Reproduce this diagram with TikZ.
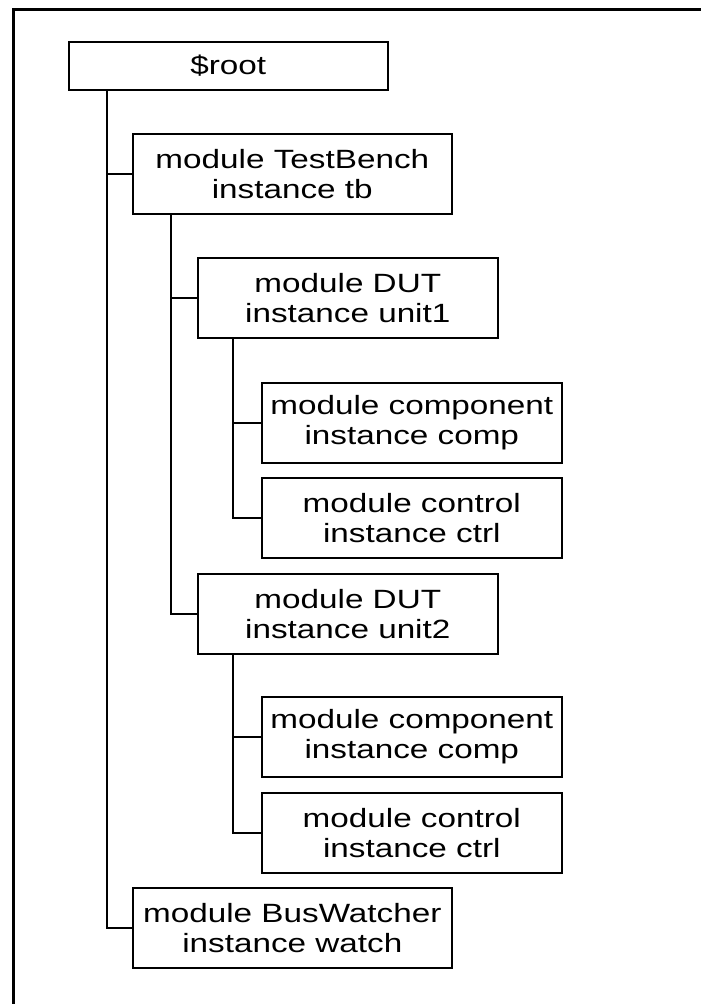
\documentclass[tikz,border=0pt]{standalone}
\usepackage{fontspec}
\setmainfont{Liberation Sans}[FakeStretch=1.26]
\tikzset{
	treenode/.style = {align=center, inner sep=0pt, text centered,
		font=\fontsize{26.4}{29.7}\selectfont},
	inst_n/.style = {treenode, rectangle, draw=black, line width=1.6pt,
		anchor=north west, minimum width=300pt, minimum height=80pt},% instance, boite normale
	inst_w/.style = {inst_n, minimum width=319pt},% instance, boite large
	inst_r/.style = {inst_w, minimum height=48pt},% racine
	lien/.style = {draw=black, line width=1.6pt}% lien parent enfant
}

\begin{document}
\begin{tikzpicture}[x=1pt,y=-1pt]
	\useasboundingbox (0,0) rectangle (701,1004);
	\draw[line width=2.6pt] (13.7,1010) -- (13.7,9.5) -- (710,9.5);

	\node[inst_r] (root) at (68,41) {\$root};
	\node[inst_w] (tb) at (132,133) {module TestBench\\instance tb};
	\node[inst_n] (unit1) at (197,257) {module DUT\\instance unit1};
	\node[inst_n] (comp1) at (261,382) {module component\\instance comp};
	\node[inst_n] (ctrl1) at (261,477) {module control\\instance ctrl};
	\node[inst_n] (unit2) at (197,573) {module DUT\\instance unit2};
	\node[inst_n] (comp2) at (261,696) {module component\\instance comp};
	\node[inst_n] (ctrl2) at (261,792) {module control\\instance ctrl};
	\node[inst_w] (bw) at (132,887) {module BusWatcher\\instance watch};

	\draw[lien] ([xshift=39pt]root.south west) |- (tb.west);
	\draw[lien] ([xshift=39pt]root.south west) |- (bw.west);
	\draw[lien] ([xshift=39pt]tb.south west) |- (unit1.west);
	\draw[lien] ([xshift=39pt]tb.south west) |- (unit2.west);
	\draw[lien] ([xshift=36pt]unit1.south west) |- (comp1.west);
	\draw[lien] ([xshift=36pt]unit1.south west) |- (ctrl1.west);
	\draw[lien] ([xshift=36pt]unit2.south west) |- (comp2.west);
	\draw[lien] ([xshift=36pt]unit2.south west) |- (ctrl2.west);
\end{tikzpicture}
\end{document}
